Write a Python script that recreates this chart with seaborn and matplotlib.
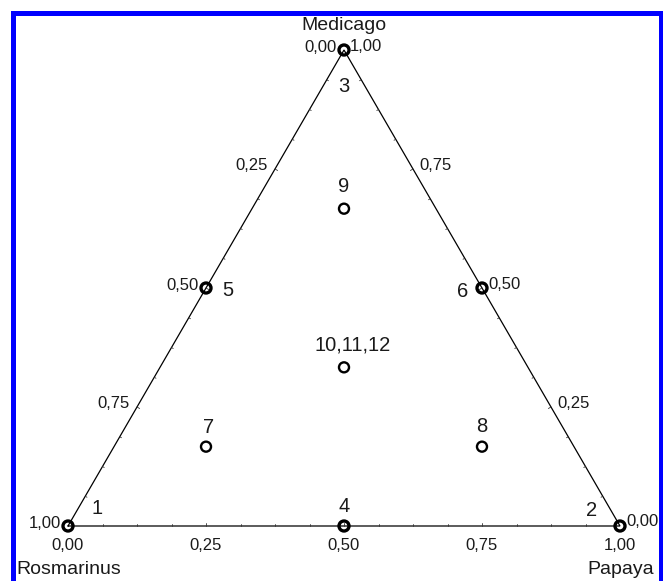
import numpy as np
import matplotlib
matplotlib.use("Agg")
import matplotlib.pyplot as plt
from matplotlib.lines import Line2D
import pandas as pd
import seaborn as sns

# Simplex-centroid mixture design: proportion of each component per run
run_labels = ["1", "2", "3", "4", "5", "6", "7", "8", "9", "10,11,12"]
rosmarinus = [1.0, 0.0, 0.0, 0.5, 0.5, 0.0, 0.6667, 0.1667, 0.1667, 0.3333]
papaya = [0.0, 1.0, 0.0, 0.5, 0.0, 0.5, 0.1667, 0.6667, 0.1667, 0.3333]
medicago = [0.0, 0.0, 1.0, 0.0, 0.5, 0.5, 0.1667, 0.1667, 0.6667, 0.3333]

tick_values = [0.0, 0.25, 0.5, 0.75, 1.0]
tick_labels = ["0,00", "0,25", "0,50", "0,75", "1,00"]
component_names = ["Rosmarinus", "Papaya", "Medicago"]

# run label placement (pixels from the marker)
label_offsets = [(29, 18), (-28, 15), (0, -36), (0, 20), (22, -2),
                 (-19, -3), (3, 19), (0, 20), (0, 22), (9, 22)]

sns.set_theme(style="white")
plt.rcParams["font.family"] = ["Liberation Sans", "DejaVu Sans"]
TXT = "#1a1a1a"

H = 476.0 / 552.0     # drawn height of the triangle per unit edge
S = 552.0             # pixels per unit edge
OX, OY = 68.0, 526.0  # pixel position of the Rosmarinus corner
W_PX, H_PX = 663, 581


def to_xy(r, p, m):
    r, p, m = np.asarray(r, float), np.asarray(p, float), np.asarray(m, float)
    tot = r + p + m
    return (p + m / 2) / tot, (m * H) / tot


df = pd.DataFrame({"run": run_labels, "Rosmarinus": rosmarinus,
                   "Papaya": papaya, "Medicago": medicago})
df["x"], df["y"] = to_xy(df["Rosmarinus"], df["Papaya"], df["Medicago"])
df["edge"] = (df[["Rosmarinus", "Papaya", "Medicago"]] == 0).any(axis=1)

fig = plt.figure(figsize=(W_PX / 100, H_PX / 100), dpi=100)
ax = fig.add_axes([0, 0, 1, 1])
ax.set_xlim(-OX / S, (W_PX - OX) / S)
ax.set_ylim(-(H_PX - OY) / S, OY / S)
ax.axis("off")

# triangle outline
corners_x, corners_y = to_xy([1, 0, 0, 1], [0, 1, 0, 0], [0, 0, 1, 0])
ax.plot(corners_x, corners_y, color="black", lw=0.9, zorder=2,
        solid_joinstyle="miter")

# small inward ticks every 1/16 along each edge
px = 1 / S
n_in = {"bottom": (0, 1), "left": (0.866, -0.5), "right": (-0.866, -0.5)}
for k in range(1, 16):
    f = k / 16
    ln = (3.0 if k % 4 == 0 else 2.0) * px
    pts = {
        "bottom": to_xy(1 - f, f, 0),
        "left": to_xy(f, 0, 1 - f),
        "right": to_xy(0, 1 - f, f),
    }
    for side, (x0, y0) in pts.items():
        nx, ny = n_in[side]
        ax.plot([x0, x0 + nx * ln], [y0, y0 + ny * ln], color="#333333",
                lw=0.6, zorder=2)

# tick labels on the three edges
TFS = 12
for v, lab in zip(tick_values, tick_labels):
    x, y = to_xy(1 - v, v, 0)
    ax.annotate(lab, (x, y), xytext=(0, -19), textcoords="offset pixels",
                ha="center", va="center", fontsize=TFS, color=TXT)
    x, y = to_xy(v, 0, 1 - v)
    ax.annotate(lab, (x, y), xytext=(-7, 3), textcoords="offset pixels",
                ha="right", va="center", fontsize=TFS, color=TXT)
    x, y = to_xy(0, 1 - v, v)
    ax.annotate(lab, (x, y), xytext=(6, 4), textcoords="offset pixels",
                ha="left", va="center", fontsize=TFS, color=TXT)

# component names at the corners
x, y = to_xy(1, 0, 0)
ax.annotate(component_names[0], (x, y), xytext=(-52, -44),
            textcoords="offset pixels", ha="left", va="center",
            fontsize=14, color=TXT)
x, y = to_xy(0, 1, 0)
ax.annotate(component_names[1], (x, y), xytext=(34, -44),
            textcoords="offset pixels", ha="right", va="center",
            fontsize=14, color=TXT)
x, y = to_xy(0, 0, 1)
ax.annotate(component_names[2], (x, y), xytext=(0, 25),
            textcoords="offset pixels", ha="center", va="center",
            fontsize=14, color=TXT)

# design points
sns.scatterplot(data=df[~df["edge"]], x="x", y="y", ax=ax, marker="o",
                s=52, facecolors="none", edgecolor="black", linewidth=1.7,
                zorder=3, legend=False)
sns.scatterplot(data=df[df["edge"]], x="x", y="y", ax=ax, marker="o",
                s=52, facecolors="none", edgecolor="black", linewidth=2.4,
                zorder=3, legend=False)
ax.set_xlim(-OX / S, (W_PX - OX) / S)
ax.set_ylim(-(H_PX - OY) / S, OY / S)

for (_, row), (dx, dy) in zip(df.iterrows(), label_offsets):
    ax.annotate(row["run"], (row["x"], row["y"]), xytext=(dx, dy),
                textcoords="offset pixels", ha="center", va="center",
                fontsize=14.5, color=TXT)

# blue frame around the chart
fx = lambda p: p / W_PX
fy = lambda p: 1 - p / H_PX
fig.add_artist(Line2D([fx(12.5), fx(12.5), fx(661), fx(661)],
                      [fy(600), fy(12.5), fy(12.5), fy(600)],
                      color="#0000ff", lw=3.6, solid_joinstyle="miter",
                      transform=fig.transFigure))

fig.savefig("out.png", dpi=100)
